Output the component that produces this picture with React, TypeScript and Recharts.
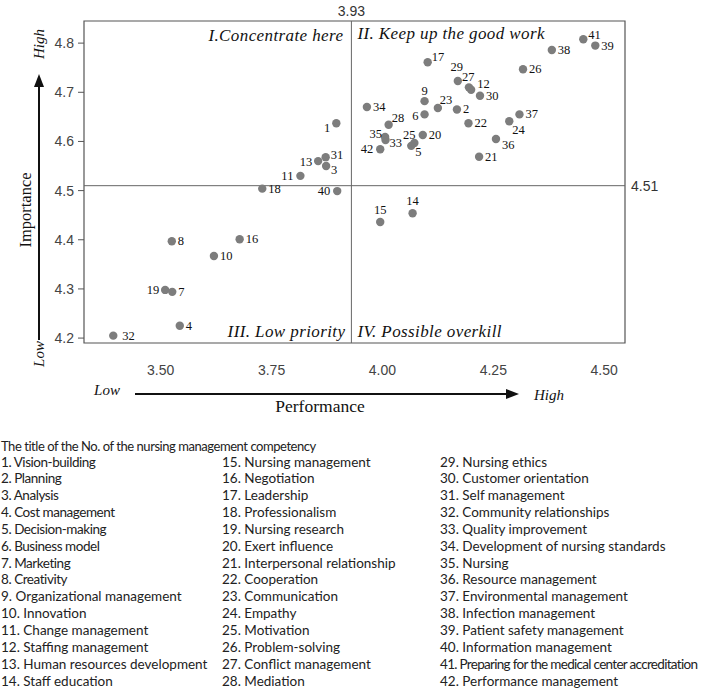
import React from "react";
import {
  Label,
  ReferenceArea,
  ReferenceLine,
  Scatter,
  ScatterChart,
  XAxis,
  YAxis,
} from "recharts";

// competency numbers, performance (x) and importance (y) means
const ids = [
  1, 2, 3, 4, 5, 6, 7, 8, 9, 10, 11, 12, 13, 14, 15, 16, 17, 18, 19, 20, 21,
  22, 23, 24, 25, 26, 27, 28, 29, 30, 31, 32, 33, 34, 35, 36, 37, 38, 39, 40,
  41, 42,
];
const performance = [
  3.896, 4.168, 3.873, 3.543, 4.065, 4.095, 3.526, 3.525, 4.095, 3.62, 3.815,
  4.2, 3.855, 4.068, 3.995, 3.678, 4.102, 3.729, 3.51, 4.091, 4.218, 4.194,
  4.125, 4.286, 4.072, 4.317, 4.195, 4.014, 4.17, 4.22, 3.872, 3.393, 4.007,
  3.965, 4.006, 4.256, 4.309, 4.382, 4.48, 3.898, 4.453, 3.995,
];
const importance = [
  4.637, 4.665, 4.55, 4.225, 4.591, 4.655, 4.294, 4.397, 4.682, 4.367, 4.53,
  4.705, 4.56, 4.454, 4.436, 4.401, 4.761, 4.504, 4.298, 4.613, 4.569, 4.637,
  4.668, 4.641, 4.597, 4.747, 4.71, 4.634, 4.723, 4.693, 4.568, 4.205, 4.603,
  4.67, 4.609, 4.605, 4.655, 4.786, 4.795, 4.499, 4.808, 4.584,
];
const competencies = [
  "Vision-building",
  "Planning",
  "Analysis",
  "Cost management",
  "Decision-making",
  "Business model",
  "Marketing",
  "Creativity",
  "Organizational management",
  "Innovation",
  "Change management",
  "Staffing management",
  "Human resources development",
  "Staff education",
  "Nursing management",
  "Negotiation",
  "Leadership",
  "Professionalism",
  "Nursing research",
  "Exert influence",
  "Interpersonal relationship",
  "Cooperation",
  "Communication",
  "Empathy",
  "Motivation",
  "Problem-solving",
  "Conflict management",
  "Mediation",
  "Nursing ethics",
  "Customer orientation",
  "Self management",
  "Community relationships",
  "Quality improvement",
  "Development of nursing standards",
  "Nursing",
  "Resource management",
  "Environmental management",
  "Infection management",
  "Patient safety management",
  "Information management",
  "Preparing for the medical center accreditation",
  "Performance management",
];

const xTicks = [3.5, 3.75, 4.0, 4.25, 4.5];
const yTicks = [4.2, 4.3, 4.4, 4.5, 4.6, 4.7, 4.8];
const xMean = 3.93;
const yMean = 4.51;
const xDomain: [number, number] = [3.327, 4.547];
const yDomain: [number, number] = [4.19, 4.845];

// where each number label sits relative to its dot: [dx, dy, anchor]
const labelPlacement: Record<number, [number, number, string]> = {
  41: [5, -4, "start"],
  17: [4, -5, "start"],
  29: [-1, -14, "middle"],
  27: [-7, -10, "start"],
  12: [6, -6, "start"],
  9: [0, -10, "middle"],
  23: [2, -8, "start"],
  6: [-6, 2, "end"],
  24: [3, 9, "start"],
  28: [3, -7, "start"],
  35: [-3, -3, "end"],
  33: [4, 3, "start"],
  25: [-5, -8, "middle"],
  5: [4, 6, "start"],
  36: [6, 6, "start"],
  42: [-7, 0, "end"],
  14: [0, -12, "middle"],
  15: [0, -12, "middle"],
  1: [-6, 5, "end"],
  31: [5, -2, "start"],
  13: [-6, 1, "end"],
  3: [5, 4, "start"],
  11: [-7, 0, "end"],
  40: [-7, 0, "end"],
  19: [-6, 0, "end"],
  32: [9, 0, "start"],
};

const points = ids.map((id, i) => ({
  id,
  x: performance[i],
  y: importance[i],
}));

const serif = "'Liberation Serif', 'Times New Roman', serif";
const sans = "'Liberation Sans', Arial, sans-serif";
const legendFont = "Lato, 'Noto Sans', sans-serif";

const quadStyle = {
  fill: "#111",
  fontSize: 17,
  fontFamily: serif,
  fontStyle: "italic",
  letterSpacing: 0.4,
};

function NumberedDot(props: any) {
  const { cx, cy, payload } = props;
  const [dx, dy, anchor] = labelPlacement[payload.id] ?? [6, 0, "start"];
  return (
    <g>
      <circle cx={cx} cy={cy} r={4.2} fill="#7d7d7d" />
      <text
        x={cx + dx}
        y={cy + dy}
        textAnchor={anchor}
        dominantBaseline="central"
        fontSize={12.5}
        fontFamily={serif}
        fill="#111"
      >
        {payload.id}
      </text>
    </g>
  );
}

function AxisDecorations() {
  return (
    <svg
      width={707}
      height={440}
      style={{ position: "absolute", left: 0, top: 0, pointerEvents: "none" }}
    >
      {/* importance arrow */}
      <line x1={39} y1={340} x2={39} y2={84} stroke="#111" strokeWidth={2} />
      <polygon points="39,74 34,87 44,87" fill="#111" />
      <text
        transform="translate(44,44) rotate(-90)"
        textAnchor="middle"
        fontSize={15}
        fontStyle="italic"
        fontFamily={serif}
        fill="#111"
      >
        High
      </text>
      <text
        transform="translate(44,354) rotate(-90)"
        textAnchor="middle"
        fontSize={15}
        fontStyle="italic"
        fontFamily={serif}
        fill="#111"
      >
        Low
      </text>
      <text
        transform="translate(31,210) rotate(-90)"
        textAnchor="middle"
        fontSize={16.5}
        fontFamily={serif}
        fill="#111"
      >
        Importance
      </text>
      {/* performance arrow */}
      <line x1={135} y1={394} x2={508} y2={394} stroke="#111" strokeWidth={2} />
      <polygon points="519,394 506,389 506,399" fill="#111" />
      <text
        x={107}
        y={395}
        textAnchor="middle"
        fontSize={15}
        fontStyle="italic"
        fontFamily={serif}
        fill="#111"
      >
        Low
      </text>
      <text
        x={549}
        y={400}
        textAnchor="middle"
        fontSize={15}
        fontStyle="italic"
        fontFamily={serif}
        fill="#111"
      >
        High
      </text>
      <text
        x={320}
        y={412}
        textAnchor="middle"
        fontSize={17.5}
        fontFamily={serif}
        fill="#111"
      >
        Performance
      </text>
    </svg>
  );
}

function CompetencyList() {
  const columns = [0, 14, 28].map((start) =>
    competencies.slice(start, start + 14).map((name, i) => ({
      no: ids[start + i],
      name,
    }))
  );
  const colX = [1, 222, 440];
  const spacingFor = (no: number) =>
    no <= 8 ? -0.45 : no === 41 ? -0.7 : 0;
  return (
    <div
      style={{
        position: "absolute",
        left: 0,
        top: 440,
        width: 707,
        fontFamily: legendFont,
        fontSize: 13.5,
        color: "#222",
        lineHeight: "13px",
      }}
    >
      <div
        style={{
          position: "absolute",
          left: 1,
          top: -0.5,
          fontSize: 13,
          letterSpacing: -0.45,
          whiteSpace: "nowrap",
        }}
      >
        The title of the No. of the nursing management competency
      </div>
      {columns.map((col, c) =>
        col.map((item, r) => (
          <div
            key={item.no}
            style={{
              position: "absolute",
              left: colX[c],
              top: 15.5 + r * 16.85,
              whiteSpace: "nowrap",
              letterSpacing: spacingFor(item.no),
            }}
          >
            {item.no}. {item.name}
          </div>
        ))
      )}
    </div>
  );
}

export default function App() {
  return (
    <div
      style={{
        position: "absolute",
        left: 0,
        top: 0,
        width: 707,
        height: 689,
        background: "#fff",
      }}
    >
      <ScatterChart
        width={707}
        height={440}
        margin={{ top: 21, right: 82, bottom: 67, left: 44 }}
      >
        <XAxis
          type="number"
          dataKey="x"
          domain={xDomain}
          ticks={xTicks}
          allowDataOverflow
          tickFormatter={(v: number) => v.toFixed(2)}
          tickLine={false}
          axisLine={false}
          height={30}
          tickMargin={16}
          tick={{ fontSize: 14, fill: "#444", fontFamily: sans }}
        />
        <YAxis
          type="number"
          dataKey="y"
          domain={yDomain}
          ticks={yTicks}
          allowDataOverflow
          tickFormatter={(v: number) => v.toFixed(1)}
          axisLine={false}
          tickLine={{ stroke: "#555" }}
          tickSize={6}
          tickMargin={4}
          width={40}
          tick={{ fontSize: 14, fill: "#444", fontFamily: sans }}
        />
        <ReferenceArea
          x1={xDomain[0]}
          x2={xDomain[1]}
          y1={yDomain[0]}
          y2={yDomain[1]}
          fill="none"
          stroke="#555"
          strokeWidth={1.2}
        />
        <ReferenceArea
          x1={xDomain[0]}
          x2={xMean}
          y1={yMean}
          y2={yDomain[1]}
          fill="none"
          stroke="none"
          label={
            <Label
              value="I.Concentrate here"
              position="insideTopRight"
              offset={8}
              {...quadStyle}
            />
          }
        />
        <ReferenceArea
          x1={xMean}
          x2={xDomain[1]}
          y1={yMean}
          y2={yDomain[1]}
          fill="none"
          stroke="none"
          label={
            <Label
              value="II. Keep up the good work"
              position="insideTopLeft"
              offset={6}
              {...quadStyle}
            />
          }
        />
        <ReferenceArea
          x1={xDomain[0]}
          x2={xMean}
          y1={yDomain[0]}
          y2={yMean}
          fill="none"
          stroke="none"
          label={
            <Label
              value="III. Low priority"
              position="insideBottomRight"
              offset={6}
              {...quadStyle}
            />
          }
        />
        <ReferenceArea
          x1={xMean}
          x2={xDomain[1]}
          y1={yDomain[0]}
          y2={yMean}
          fill="none"
          stroke="none"
          label={
            <Label
              value="IV. Possible overkill"
              position="insideBottomLeft"
              offset={6}
              {...quadStyle}
            />
          }
        />
        <ReferenceLine
          x={xMean}
          stroke="#666"
          label={{
            value: "3.93",
            position: "top",
            offset: 5,
            fontSize: 14,
            fill: "#333",
            fontFamily: sans,
          }}
        />
        <ReferenceLine
          y={yMean}
          stroke="#666"
          label={{
            value: "4.51",
            position: "right",
            offset: 6,
            fontSize: 14,
            fill: "#333",
            fontFamily: sans,
          }}
        />
        <Scatter
          data={points}
          shape={NumberedDot}
          isAnimationActive={false}
        />
      </ScatterChart>
      <AxisDecorations />
      <CompetencyList />
    </div>
  );
}
